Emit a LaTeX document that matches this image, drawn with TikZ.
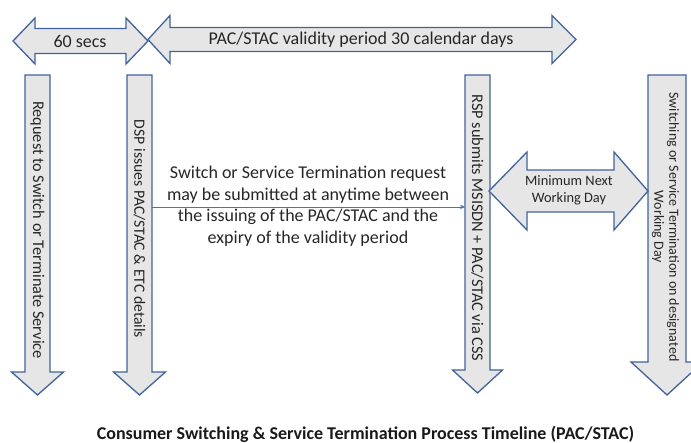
\documentclass[tikz,border=0pt]{standalone}
\usepackage{fontspec}
\setmainfont{Carlito}
\usetikzlibrary{arrows.meta}
\definecolor{edgeblue}{RGB}{66,98,156}
\definecolor{lineblue}{RGB}{68,114,196}
\definecolor{shaftgray}{RGB}{230,230,230}
\newcommand\vArrowShape[6]{% cx, y0, w, y1, h, y2
  \draw[bigarrow] (#1-#3,#2) -- (#1+#3,#2) -- (#1+#3,#4) -- (#1+#5,#4) -- (#1,#6) -- (#1-#5,#4) -- (#1-#3,#4) -- cycle;}
\newcommand\hArrowShape[7]{% xl, xa, xb, xr, cy, w, h
  \draw[bigarrow] (#1,#5) -- (#2,#5-#7) -- (#2,#5-#6) -- (#3,#5-#6) -- (#3,#5-#7) -- (#4,#5) -- (#3,#5+#7) -- (#3,#5+#6) -- (#2,#5+#6) -- (#2,#5+#7) -- cycle;}
\tikzset{
  bigarrow/.style={draw=edgeblue, fill=shaftgray, line width=1.3pt, line join=miter},
  vlabel/.style={rotate=-90, font=\fontsize{16.3}{18}\selectfont, text=black!85, align=center, inner sep=0pt},
  hlabel/.style={font=\fontsize{18}{20}\selectfont, text=black!85, inner sep=0pt},
  connector/.style={draw=lineblue, line width=0.9pt, -{Stealth[length=5pt,width=4.5pt]}}
}
\begin{document}
\begin{tikzpicture}[x=1pt,y=-1pt]
\useasboundingbox (0,0) rectangle (691,443);
\clip (0,0) rectangle (691,443);
% top double arrows
\hArrowShape{13}{35}{126}{148}{41}{12.5}{23}
\node[hlabel] (secs) at (80,41) {60 secs};
\hArrowShape{148}{170}{552}{576}{39.5}{12}{24}
\node[hlabel] (validity) at (361,39.5) {PAC/STAC validity period 30 calendar days};
% vertical arrows
\vArrowShape{37.5}{75}{12.5}{372}{26}{395}
\node[vlabel] (request) at (37.5,230) {Request to Switch or Terminate Service};
\vArrowShape{139.5}{75}{12.5}{372}{26}{395}
\node[vlabel, font=\fontsize{15.7}{18}\selectfont] (dsp) at (139.5,229) {DSP issues PAC/STAC \& ETC details};
\coordinate (dspright) at (152,207);
\vArrowShape{477.5}{75}{12.5}{370}{25}{393}
\node[vlabel] (rsp) at (477.5,228) {RSP submits MSISDN + PAC/STAC via CSS};
\coordinate (rspleft) at (465,207);
\vArrowShape{667}{75}{19}{362}{36}{395}
\node[vlabel, font=\fontsize{14}{15}\selectfont] (switching) at (665.5,227) {Switching or Service Termination on designated\\Working Day};
% middle double arrow
\hArrowShape{489}{527}{614}{648}{191}{21}{39}
\node[font=\fontsize{14.4}{17}\selectfont, text=black!85, align=center, inner sep=0pt] (minimum) at (569,190.5) {Minimum Next\\Working Day};
% connector and its text
\draw[connector] (dspright) -- (rspleft);
\node[font=\fontsize{18}{21.5}\selectfont, text=black!85, align=center, inner sep=0pt] (window) at (308,206) {Switch or Service Termination request\\may be submitted at anytime between\\the issuing of the PAC/STAC and the\\expiry of the validity period};
% title
\node[font=\fontsize{18}{20}\selectfont\bfseries, text=black!90, inner sep=0pt] (title) at (365.5,434.5) {Consumer Switching \& Service Termination Process Timeline (PAC/STAC)};
\end{tikzpicture}
\end{document}
